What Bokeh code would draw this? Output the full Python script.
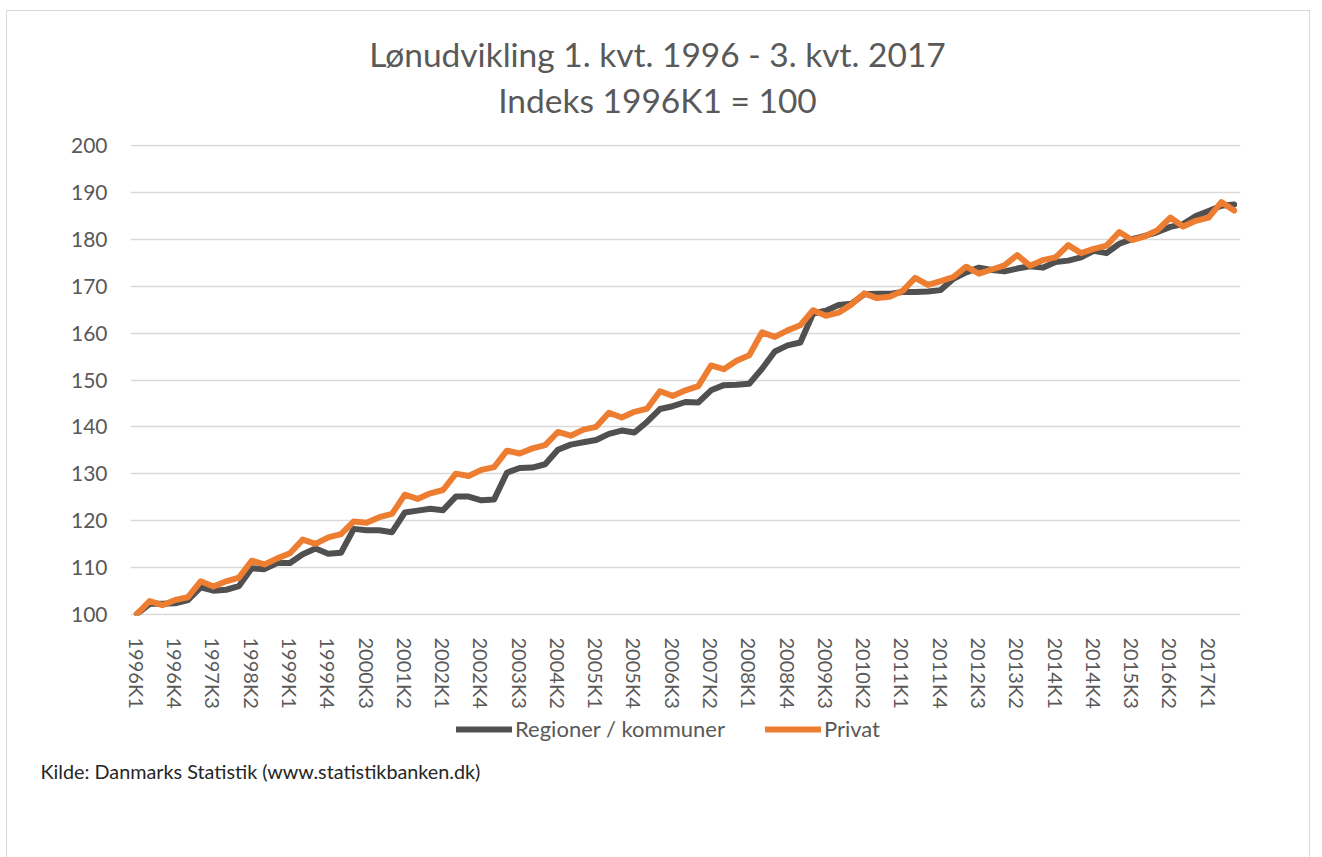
from bokeh.plotting import figure
from bokeh.models import Range1d, FixedTicker, Legend, LegendItem, Label, Title, Spacer
from bokeh.layouts import column
from bokeh.embed import file_html
from bokeh.resources import INLINE

years = list(range(1996, 2018))
quarters = [f"{y}K{q}" for y in years for q in range(1, 5)][:87]

regioner = [100, 102.2, 102.2, 102.3, 103.0, 105.7, 105.0, 105.2, 106.0, 109.8,
            109.6, 110.9, 110.9, 112.8, 114.0, 112.9, 113.1, 118.2, 117.9, 117.9,
            117.5, 121.7, 122.1, 122.5, 122.2, 125.1, 125.1, 124.3, 124.5, 130.2,
            131.2, 131.3, 132.0, 135.1, 136.2, 136.7, 137.2, 138.5, 139.2, 138.8,
            141.1, 143.8, 144.4, 145.3, 145.2, 147.8, 148.9, 149.0, 149.2, 152.4,
            156.1, 157.4, 158.0, 164.2, 164.8, 166.0, 166.3, 168.3, 168.4, 168.4,
            168.8, 168.8, 168.9, 169.2, 171.6, 173.0, 174.0, 173.5, 173.2, 173.8,
            174.3, 174.0, 175.2, 175.5, 176.2, 177.6, 177.1, 179.1, 180.1, 180.8,
            181.6, 182.7, 183.3, 185.0, 186.1, 187.2, 187.5]
privat = [100, 102.8, 101.9, 103.0, 103.6, 107.0, 105.9, 107.0, 107.8, 111.4,
          110.6, 111.9, 113.0, 115.9, 115.0, 116.4, 117.1, 119.8, 119.5, 120.7,
          121.4, 125.5, 124.6, 125.8, 126.5, 130.0, 129.5, 130.8, 131.4, 134.9,
          134.3, 135.4, 136.1, 138.9, 138.1, 139.4, 140.0, 143.0, 142.0, 143.2,
          143.9, 147.6, 146.6, 147.8, 148.7, 153.1, 152.3, 154.1, 155.3, 160.2,
          159.2, 160.6, 161.7, 164.9, 163.7, 164.4, 166.1, 168.5, 167.5, 167.8,
          169.0, 171.8, 170.3, 171.1, 172.0, 174.2, 172.7, 173.6, 174.5, 176.7,
          174.4, 175.6, 176.2, 178.8, 177.1, 178.0, 178.7, 181.6, 179.9, 180.7,
          182.0, 184.7, 182.8, 184.0, 184.7, 188.0, 186.2]
series_names = ["Regioner / kommuner", "Privat"]
series_colors = ["#505050", "#ED7D31"]
y_ticks = [100, 110, 120, 130, 140, 150, 160, 170, 180, 190, 200]
title_lines = ["Lønudvikling 1. kvt. 1996 - 3. kvt. 2017", "Indeks 1996K1 = 100"]
source_text = "Kilde: Danmarks Statistik (www.statistikbanken.dk)"

FONT = "Lato"
TXT = "#595959"
W = 1302
BL, BR = 123, 69          # plot borders; the column aligns every strip's frame to these
FW = W - BL - BR          # frame width in px
LW = 6
x = list(range(len(quarters)))


def strip(height):
    f = figure(width=W, height=height, output_backend="svg", toolbar_location=None,
               x_range=Range1d(0, FW), y_range=Range1d(0, height),
               x_axis_location=None, y_axis_location=None,
               min_border_left=BL, min_border_right=BR, min_border_top=0, min_border_bottom=0)
    f.grid.visible = False
    f.outline_line_color = None
    return f


# --- title strip ---
pt = strip(120)
pt.add_layout(Label(x=527, y=78, text=title_lines[0], text_align="center", text_baseline="middle",
                    text_font=FONT, text_font_size="33.5px", text_color=TXT))
pt.add_layout(Label(x=527, y=32, text=title_lines[1], text_align="center", text_baseline="middle",
                    text_font=FONT, text_font_size="33.5px", text_color=TXT))

# --- main chart ---
p = figure(width=W, height=580, output_backend="svg", toolbar_location=None,
           x_range=Range1d(-0.5, len(quarters) - 0.5), y_range=Range1d(99.7, 200.3),
           min_border_left=BL, min_border_right=BR, min_border_top=13, min_border_bottom=92)
p.outline_line_color = None
p.xgrid.grid_line_color = None
p.ygrid.grid_line_color = "#d9d9d9"
p.ygrid.grid_line_width = 1.5
p.yaxis.ticker = FixedTicker(ticks=y_ticks)
p.xaxis.ticker = FixedTicker(ticks=x[::3])
p.xaxis.major_label_overrides = {i: quarters[i] for i in x[::3]}
for ax in (p.xaxis, p.yaxis):
    ax.axis_line_color = None
    ax.major_tick_line_color = None
    ax.minor_tick_line_color = None
    ax.major_label_text_font = FONT
    ax.major_label_text_color = TXT
p.xaxis.major_label_text_font_size = "20px"
p.yaxis.major_label_text_font_size = "21px"
p.xaxis.major_label_orientation = "vertical"
p.xaxis.major_label_standoff = 16
p.yaxis.major_label_standoff = 17

p.line(x, regioner, line_color=series_colors[0], line_width=LW, line_join="round", line_cap="round")
p.line(x, privat, line_color=series_colors[1], line_width=LW, line_join="round", line_cap="round")

# --- legend + source strip ---
pb = strip(73)
# legend keys reuse the series on a range that keeps them off the strip
pb.extra_x_ranges = {"off": Range1d(1000, 2000)}
pb.extra_y_ranges = {"off": Range1d(1000, 2000)}
k1 = pb.line(x, regioner, line_color=series_colors[0], line_width=LW, line_cap="round",
             x_range_name="off", y_range_name="off")
k2 = pb.line(x, privat, line_color=series_colors[1], line_width=LW, line_cap="round",
             x_range_name="off", y_range_name="off")
legend = Legend(items=[LegendItem(label=series_names[0], renderers=[k1]),
                       LegendItem(label=series_names[1], renderers=[k2])],
                orientation="horizontal", location=(326, 12),
                label_text_font=FONT, label_text_font_size="22px", label_text_color=TXT,
                glyph_width=56, glyph_height=24, label_standoff=3, spacing=40,
                padding=0, margin=0, border_line_color=None, background_fill_alpha=0)
pb.add_layout(legend, "center")
pb.add_layout(Title(text=source_text, align="left", offset=-90, standoff=4,
                    text_font=FONT, text_font_size="19.8px", text_color="#262626",
                    text_font_style="normal"), "below")

layout = column(pt, p, pb, Spacer(width=W, height=73), spacing=0)
layout.styles = {"margin-left": "6px", "margin-top": "10px",
                 "border-left": "1px solid #d9d9d9", "border-top": "1px solid #d9d9d9",
                 "border-right": "1px solid #d9d9d9"}

open("out.html", "w").write(file_html(layout, INLINE))
